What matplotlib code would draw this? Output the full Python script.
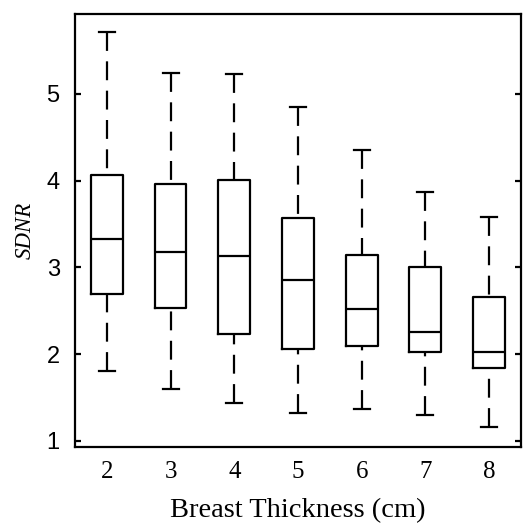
import matplotlib
matplotlib.use("Agg")
import matplotlib.pyplot as plt

# box statistics (SDNR per breast thickness)
thickness = [2, 3, 4, 5, 6, 7, 8]
whisker_low = [1.81, 1.60, 1.44, 1.32, 1.37, 1.30, 1.165]
q1 = [2.695, 2.53, 2.23, 2.06, 2.09, 2.02, 1.84]
median = [3.33, 3.18, 3.13, 2.85, 2.525, 2.25, 2.02]
q3 = [4.07, 3.965, 4.005, 3.57, 3.14, 3.01, 2.66]
whisker_high = [5.715, 5.24, 5.23, 4.85, 4.35, 3.87, 3.585]
y_ticks = [1, 2, 3, 4, 5]


def main() -> None:
    stats = []
    for i, t in enumerate(thickness):
        stats.append({"label": str(t), "whislo": whisker_low[i], "q1": q1[i],
                      "med": median[i], "q3": q3[i], "whishi": whisker_high[i],
                      "fliers": []})

    fig = plt.figure(figsize=(5.23, 5.27), dpi=100)
    ax = fig.add_axes([0.1434, 0.1518, 0.8526, 0.8216])

    lw = 1.6
    bp = ax.bxp(stats, positions=thickness, widths=0.5, showfliers=False,
                boxprops=dict(color="black", linewidth=lw),
                medianprops=dict(color="black", linewidth=lw),
                whiskerprops=dict(color="black", linewidth=lw,
                                  linestyle=(0, (8.5, 4.7))),
                capprops=dict(color="black", linewidth=lw),
                capwidths=0.25)
    # start the dash pattern at the caps, like the original
    for w in bp["whiskers"]:
        x, y = w.get_data()
        w.set_data(x[::-1], y[::-1])

    ax.set_xlim(1.5, 8.5)
    ax.set_ylim(0.93, 5.92)
    ax.set_yticks(y_ticks)
    ax.set_yticklabels([str(v) for v in y_ticks], family="Liberation Sans",
                       fontsize=17)
    ax.set_xticks(thickness)
    ax.set_xticklabels([str(t) for t in thickness], family="Liberation Serif",
                       fontsize=18)
    ax.tick_params(axis="y", direction="in", length=4, width=lw,
                   right=True, pad=11)
    ax.tick_params(axis="x", length=0, pad=10)
    for s in ax.spines.values():
        s.set_linewidth(lw)

    ax.set_xlabel("Breast Thickness (cm)", family="Liberation Serif",
                  fontsize=20.5, labelpad=11)
    ax.set_ylabel("SDNR", family="Liberation Serif", style="italic",
                  fontsize=16.5, labelpad=8)

    fig.savefig("out.png", dpi=100)
    return None


if __name__ == "__main__":
    main()
